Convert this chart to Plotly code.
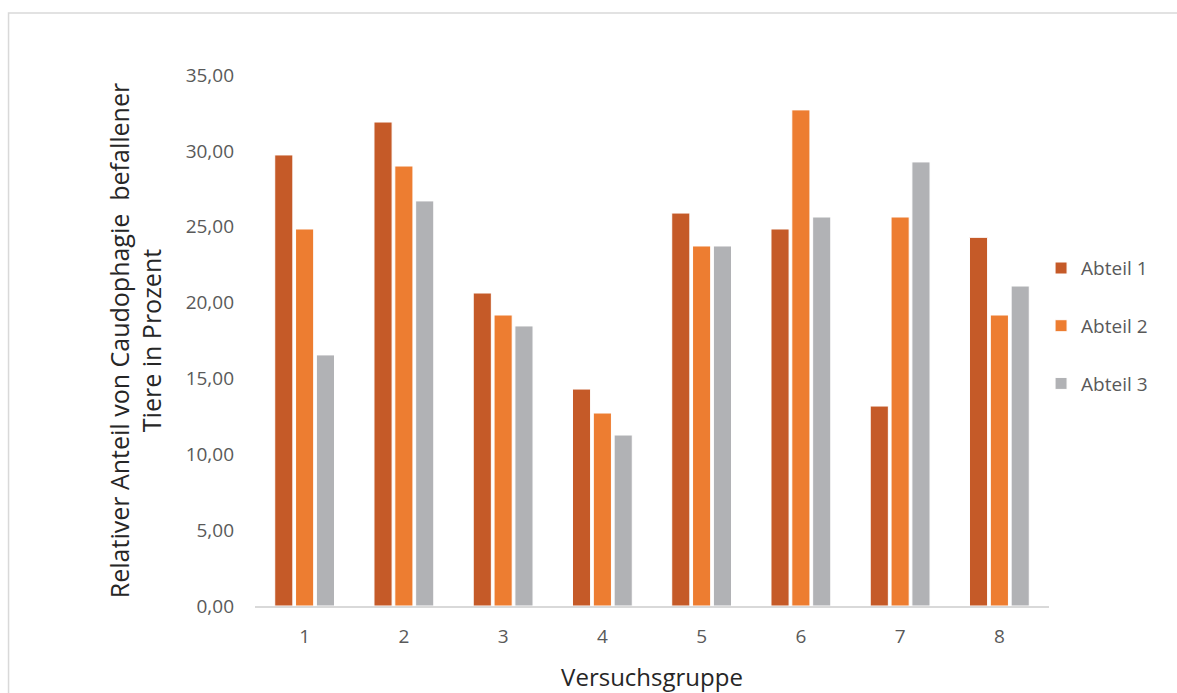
import plotly.graph_objects as go

groups = ["1", "2", "3", "4", "5", "6", "7", "8"]
abteil1 = [29.73, 31.90, 20.63, 14.30, 25.90, 24.85, 13.18, 24.30]
abteil2 = [24.85, 29.00, 19.18, 12.72, 23.73, 32.70, 25.64, 19.18]
abteil3 = [16.55, 26.70, 18.46, 11.27, 23.73, 25.64, 29.27, 21.09]
series_names = ["Abteil 1", "Abteil 2", "Abteil 3"]
colors = ["#C55A28", "#ED7D31", "#B1B2B5"]
yticks = [0, 5, 10, 15, 20, 25, 30, 35]
ytick_labels = ["0,00", "5,00", "10,00", "15,00", "20,00", "25,00", "30,00", "35,00"]

fig = go.Figure()
for name, vals, col in zip(series_names, [abteil1, abteil2, abteil3], colors):
    fig.add_trace(go.Bar(x=groups, y=vals, name=name, legendgroup=name,
                         marker=dict(color=col, line=dict(color="white", width=1))))

font_family = "Open Sans, Lato, sans-serif"
fig.update_layout(
    width=1177, height=693,
    margin=dict(l=255, r=128, t=75, b=87, autoexpand=False),
    paper_bgcolor="white", plot_bgcolor="white",
    barmode="group", bargap=0.37, bargroupgap=0.13,
    font=dict(family=font_family, color="#595959", size=19),
    showlegend=True,
    legend=dict(x=0.99, xanchor="left", y=0.527, yanchor="middle",
                font=dict(size=19, color="#595959"),
                tracegroupgap=30, itemwidth=30,
                bgcolor="rgba(0,0,0,0)"),
    xaxis=dict(showline=True, linecolor="#D9D9D9", linewidth=1.5,
               ticks="", tickfont=dict(size=19, color="#595959"),
               ticklabelstandoff=12,
               title=dict(text="Versuchsgruppe", font=dict(size=24, color="#262626"), standoff=26),
               showgrid=False),
    yaxis=dict(range=[0, 35], tickvals=yticks, ticktext=ytick_labels,
               showgrid=False, zeroline=False, showline=False, ticks="",
               tickfont=dict(size=19, color="#595959"),
               ticklabelstandoff=20,
               title=dict(text="Relativer Anteil von Caudophagie  befallener<br>Tiere in Prozent",
                          font=dict(size=25, color="#262626"), standoff=16)),
    shapes=[dict(type="rect", xref="paper", yref="paper",
                 x0=-0.3104, x1=1.2, y0=-0.2, y1=1.1168,
                 line=dict(color="#D9D9D9", width=1.5), fillcolor="rgba(0,0,0,0)", layer="below")],
)

fig.write_html("out.html")
